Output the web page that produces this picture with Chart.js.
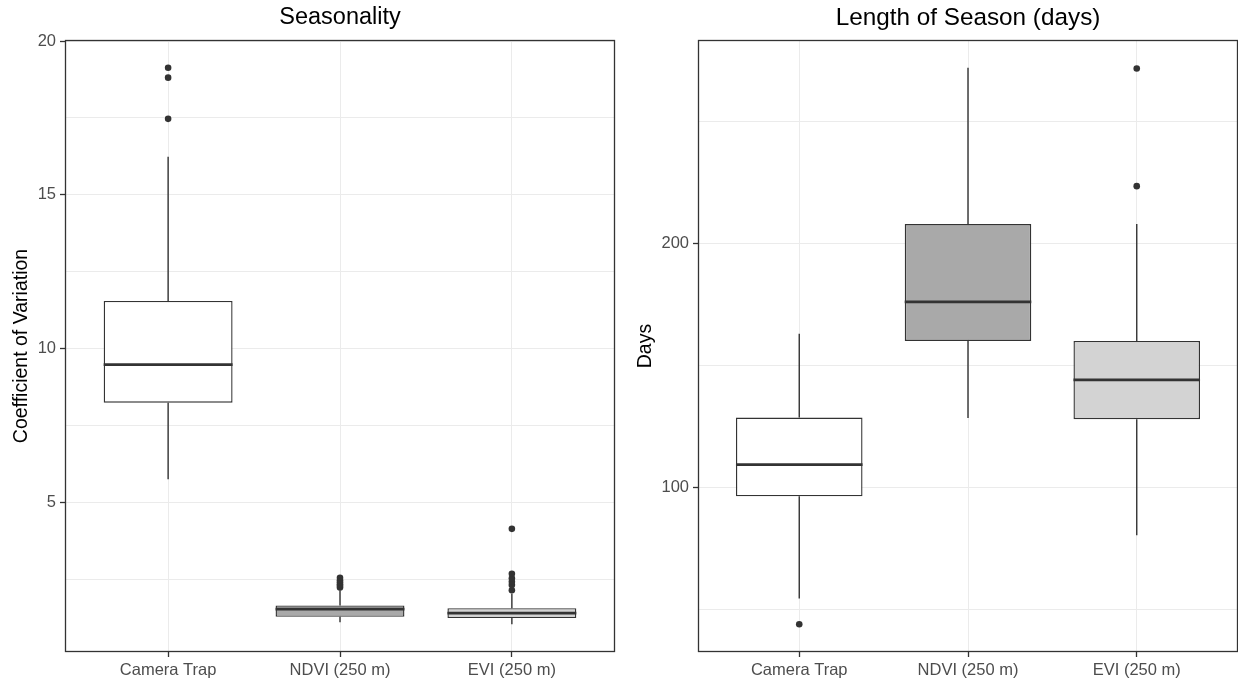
<!DOCTYPE html>
<html>
<head>
<meta charset="utf-8">
<script src="https://cdn.jsdelivr.net/npm/chart.js@4.4.1/dist/chart.umd.min.js"></script>
<style>
  html, body { margin: 0; padding: 0; background: #ffffff; }
  #wrap { position: relative; width: 1238px; height: 682px; overflow: hidden; }
  .panel { position: absolute; top: 0; }
</style>
</head>
<body>
<div id="wrap">
  <canvas id="seasonality" class="panel" style="left:0px" width="620" height="682"></canvas>
  <canvas id="length" class="panel" style="left:620px" width="618" height="682"></canvas>
</div>
<script>
// Groups shown on both panels
const categories = ['Camera Trap', 'NDVI (250 m)', 'EVI (250 m)'];

// Seasonality: coefficient of variation
const seasonWhiskerLow  = [5.75, 1.10, 1.04];
const seasonQ1          = [8.24, 1.28, 1.24];
const seasonMedian      = [9.48, 1.53, 1.40];
const seasonQ3          = [11.55, 1.65, 1.56];
const seasonWhiskerHigh = [16.24, 2.12, 2.02];
const seasonOutliersCamera = [17.47, 18.81, 19.13];
const seasonOutliersNdvi   = [2.23, 2.29, 2.34, 2.40, 2.47, 2.55];
const seasonOutliersEvi    = [2.14, 2.31, 2.42, 2.53, 2.68, 4.14];
const seasonMajorTicks = [5, 10, 15, 20];
const seasonMinorTicks = [2.5, 7.5, 12.5, 17.5];

// Length of season (days)
const lengthWhiskerLow  = [54.4, 128.4, 80.3];
const lengthQ1          = [96.3, 160.0, 127.9];
const lengthMedian      = [109.3, 176.0, 144.0];
const lengthQ3          = [128.6, 207.9, 160.0];
const lengthWhiskerHigh = [162.9, 271.9, 207.9];
const lengthOutliersCamera = [43.9];
const lengthOutliersNdvi   = [];
const lengthOutliersEvi    = [223.4, 271.6];
const lengthMajorTicks = [100, 200];
const lengthMinorTicks = [50, 150, 250];

const boxFills = ['#FFFFFF', '#A9A9A9', '#D3D3D3'];
const INK = '#333333';
const GRID = '#EBEBEB';
const FONT = "'Liberation Sans', Arial, sans-serif";

// Whiskers, medians and the panel frame, drawn through the chart's scales
const boxplotParts = {
  id: 'boxplotParts',
  beforeDatasetsDraw(chart, args, opts) {
    const { ctx, scales: { x, y }, chartArea } = chart;
    ctx.save();
    ctx.beginPath();
    ctx.rect(chartArea.left, chartArea.top, chartArea.width, chartArea.height);
    ctx.clip();
    ctx.strokeStyle = INK;
    ctx.lineWidth = 1.4;
    opts.q1.forEach((_, i) => {
      const px = x.getPixelForValue(i + 1);
      ctx.beginPath();
      ctx.moveTo(px, y.getPixelForValue(opts.q3[i]));
      ctx.lineTo(px, y.getPixelForValue(opts.hi[i]));
      ctx.moveTo(px, y.getPixelForValue(opts.q1[i]));
      ctx.lineTo(px, y.getPixelForValue(opts.lo[i]));
      ctx.stroke();
    });
    ctx.restore();
  },
  afterDatasetsDraw(chart, args, opts) {
    const { ctx, scales: { x, y } } = chart;
    const bars = chart.getDatasetMeta(0).data;
    ctx.save();
    ctx.strokeStyle = INK;
    ctx.lineWidth = 2.6;
    opts.median.forEach((m, i) => {
      const cx = x.getPixelForValue(i + 1);
      const half = bars[i].width / 2;
      const py = y.getPixelForValue(m);
      ctx.beginPath();
      ctx.moveTo(cx - half, py);
      ctx.lineTo(cx + half, py);
      ctx.stroke();
    });
    ctx.restore();
  },
  afterDraw(chart) {
    const { ctx, chartArea: a } = chart;
    ctx.save();
    ctx.strokeStyle = INK;
    ctx.lineWidth = 1.3;
    ctx.strokeRect(Math.round(a.left) + 0.5, Math.round(a.top) + 0.5,
                   Math.round(a.width) - 1, Math.round(a.height) - 1);
    ctx.restore();
  }
};

function makeBoxChart(canvasId, cfg) {
  const allValues = [...cfg.lo, ...cfg.hi, ...cfg.outliers.flat()];
  const lo = Math.min(...allValues), hi = Math.max(...allValues);
  const pad = (hi - lo) * 0.05;
  const yTicks = [...cfg.minor, ...cfg.major].sort((a, b) => a - b);
  const isMajor = v => cfg.major.includes(v);

  const outlierPoints = [];
  cfg.outliers.forEach((list, i) => list.forEach(v => outlierPoints.push({ x: i + 1, y: v })));

  return new Chart(document.getElementById(canvasId), {
    type: 'bar',
    data: {
      datasets: [
        {
          type: 'bar',
          data: cfg.q1.map((q, i) => ({ x: i + 1, y: [q, cfg.q3[i]] })),
          backgroundColor: boxFills,
          borderColor: INK,
          borderWidth: 1.4,
          borderSkipped: false,
          categoryPercentage: 1,
          barPercentage: 0.75,
          order: 2
        },
        {
          type: 'scatter',
          data: outlierPoints,
          pointRadius: 3.3,
          pointBackgroundColor: INK,
          pointBorderWidth: 0,
          order: 1
        }
      ]
    },
    options: {
      responsive: false,
      animation: false,
      events: [],
      layout: { autoPadding: false, padding: { left: 0, right: cfg.rightPad, top: 0, bottom: 0 } },
      plugins: {
        legend: { display: false },
        tooltip: { enabled: false },
        title: {
          display: true,
          text: cfg.title,
          fullSize: false,
          color: '#000000',
          font: { family: FONT, size: cfg.titleSize, weight: 'normal' },
          padding: { top: 3.5, bottom: 40 - 3.5 - cfg.titleSize * 1.2 }
        },
        boxplotParts: { q1: cfg.q1, q3: cfg.q3, median: cfg.median, lo: cfg.lo, hi: cfg.hi }
      },
      scales: {
        x: {
          type: 'linear',
          min: 0.4,
          max: 3.6,
          offset: false,
          afterBuildTicks: s => { s.ticks = categories.map((_, i) => ({ value: i + 1 })); },
          afterFit: s => { s.height = 30; s.paddingLeft = 0; s.paddingRight = 0; },
          ticks: {
            autoSkip: false,
            maxRotation: 0,
            padding: 4,
            color: '#4D4D4D',
            font: { family: FONT, size: 16.5 },
            callback: v => categories[Math.round(v) - 1]
          },
          grid: { offset: false, color: GRID, lineWidth: 1, tickColor: INK, tickLength: 5, tickWidth: 1.3 },
          border: { display: false }
        },
        y: {
          type: 'linear',
          min: lo - pad,
          max: hi + pad,
          afterBuildTicks: s => { s.ticks = yTicks.map(v => ({ value: v })); },
          afterFit: s => { s.width = cfg.axisWidth; s.paddingTop = 0; s.paddingBottom = 0; },
          title: {
            display: true,
            text: cfg.yTitle,
            color: '#000000',
            font: { family: FONT, size: 19.5 },
            padding: { top: cfg.titlePad, bottom: 0 }
          },
          ticks: {
            autoSkip: false,
            padding: 4,
            color: '#4D4D4D',
            font: { family: FONT, size: 16.5 },
            callback: v => (isMajor(v) ? String(v) : '')
          },
          grid: {
            color: GRID,
            lineWidth: 1,
            tickLength: 5,
            tickWidth: 1.3,
            tickColor: c => (c.tick && isMajor(c.tick.value) ? INK : 'rgba(0,0,0,0)')
          },
          border: { display: false }
        }
      }
    },
    plugins: [boxplotParts]
  });
}

makeBoxChart('seasonality', {
  title: 'Seasonality',
  titleSize: 23.5,
  yTitle: 'Coefficient of Variation',
  lo: seasonWhiskerLow, q1: seasonQ1, median: seasonMedian, q3: seasonQ3, hi: seasonWhiskerHigh,
  outliers: [seasonOutliersCamera, seasonOutliersNdvi, seasonOutliersEvi],
  major: seasonMajorTicks, minor: seasonMinorTicks,
  axisWidth: 65, titlePad: 10, rightPad: 5
});

makeBoxChart('length', {
  title: 'Length of Season (days)',
  titleSize: 24.3,
  yTitle: 'Days',
  lo: lengthWhiskerLow, q1: lengthQ1, median: lengthMedian, q3: lengthQ3, hi: lengthWhiskerHigh,
  outliers: [lengthOutliersCamera, lengthOutliersNdvi, lengthOutliersEvi],
  major: lengthMajorTicks, minor: lengthMinorTicks,
  axisWidth: 78, titlePad: 13.5, rightPad: 0
});
</script>
</body>
</html>
